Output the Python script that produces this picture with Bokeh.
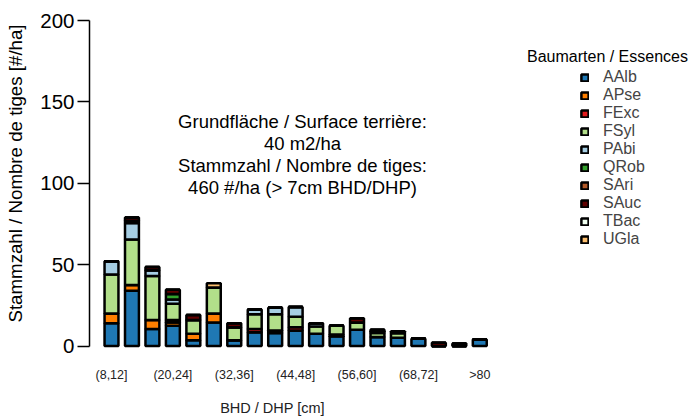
from bokeh.plotting import figure
from bokeh.models import (ColumnDataSource, Range1d, FixedTicker, Label, Legend, LegendItem)
from bokeh.embed import file_html
from bokeh.resources import INLINE
import math

classes = ["(8,12]", "(12,16]", "(16,20]", "(20,24]", "(24,28]", "(28,32]", "(32,36]",
           "(36,40]", "(40,44]", "(44,48]", "(48,52]", "(52,56]", "(56,60]", "(60,64]",
           "(64,68]", "(68,72]", "(72,76]", "(76,80]", ">80"]
species = ["AAlb", "APse", "FExc", "FSyl", "PAbi", "QRob", "SAri", "SAuc", "TBac", "UGla"]
colors = ["#1F78B4", "#FF7F00", "#E31A1C", "#B2DF8A", "#A6CEE3", "#33A02C", "#B15928",
          "#600000", "#F0FFF0", "#FDBF6F"]

AAlb = [14, 34, 10.5, 12.5, 3.5, 14.5, 3.5, 8.5, 8, 9.5, 7.5, 6, 10, 5.5, 5, 4.5, 0, 0, 4]
APse = [6, 3.5, 5.5, 2, 4, 5.5, 0, 0, 0, 0, 0, 0, 0, 0, 0, 0, 0, 0, 0]
FExc = [0, 0, 0, 1.5, 0, 0, 0, 2, 1.5, 2, 0, 1, 0, 0, 0, 0, 0, 0, 0]
FSyl = [24, 28, 27, 10, 8.5, 16, 8, 9, 10, 6.5, 4.5, 5.5, 4.5, 2.5, 3, 0, 0, 0, 0]
PAbi = [8, 10, 3.5, 2.5, 0, 0, 0, 3, 4, 6, 2, 0, 0, 1, 0, 0, 0, 0, 0]
QRob = [0, 0, 0, 3.5, 0, 0, 0, 0, 0, 0, 0, 0, 0, 0, 0, 0, 0, 0, 0]
SAri = [0, 1.5, 0, 0, 0, 0, 0, 0, 0, 0, 0, 0, 0, 0, 0, 0, 0, 0, 0]
SAuc = [0, 2, 2, 2.5, 3, 0, 2.5, 0, 0, 0, 0, 0, 2.5, 1, 1, 0, 2, 1.5, 0]
TBac = [0] * 19
UGla = [0, 0, 0, 0, 0, 2.5, 0, 0, 0, 0, 0, 0, 0, 0, 0, 0, 0, 0, 0]

tick_classes = ["(8,12]", "(20,24]", "(32,36]", "(44,48]", "(56,60]", "(68,72]", ">80"]
y_ticks = [0, 50, 100, 150, 200]

x_title = "BHD / DHP [cm]"
y_title = "Stammzahl / Nombre de tiges [#/ha]"
legend_title = "Baumarten / Essences"
info_lines = ["Grundfläche / Surface terrière:", "40 m2/ha",
              "Stammzahl / Nombre de tiges:", "460 #/ha (> 7cm BHD/DHP)"]

FONT = "Liberation Sans"

# page-pixel layout helpers (canvas sits at the page's top-left corner)
PX0, PITCH = 111.0, 20.46
Y0, YS = 345.5, 1.6275


def dx(px):
    return (px - PX0) / PITCH


def dy(py):
    return (Y0 - py) / YS


data = {"x": list(range(len(classes)))}
for name, vals in zip(species, [AAlb, APse, FExc, FSyl, PAbi, QRob, SAri, SAuc, TBac, UGla]):
    data[name] = vals
source = ColumnDataSource(data)

p = figure(width=689, height=419, output_backend="svg", toolbar_location=None,
           x_range=Range1d(dx(0), dx(689)), y_range=Range1d(dy(419), dy(0)),
           min_border=0)
p.outline_line_color = None
p.xgrid.visible = False
p.ygrid.visible = False
p.xaxis.visible = False

ya = p.yaxis[0]
ya.fixed_location = dx(89)
ya.ticker = FixedTicker(ticks=y_ticks)
ya.bounds = (0, 200)
ya.major_tick_out = 12
ya.major_tick_in = 0
ya.minor_tick_line_color = None
ya.axis_line_width = 1.5
ya.major_tick_line_width = 1.5
ya.axis_line_color = "black"
ya.major_tick_line_color = "black"
ya.major_label_text_font = FONT
ya.major_label_text_font_size = "20.5px"
ya.major_label_text_color = "black"
ya.major_label_standoff = 3

renderers = p.vbar_stack(species, x="x", width=0.68, color=colors, line_color="black",
                         line_width=2.5, source=source)

items = [LegendItem(label=s, renderers=[r]) for s, r in zip(species, renderers)]
legend = Legend(items=items, location=(580, 171), glyph_width=9, glyph_height=9,
                label_height=9, spacing=0, padding=0, margin=0, label_standoff=14,
                label_text_font=FONT, label_text_font_size="16px",
                border_line_color=None, background_fill_alpha=0)
p.add_layout(legend, "center")

p.add_layout(Label(x=dx(15), y=dy(173), text=y_title, text_font=FONT, angle=math.pi / 2,
                   text_font_size="18.7px", text_align="center", text_baseline="middle",
                   text_color="black"))

p.add_layout(Label(x=dx(607), y=dy(56), text=legend_title, text_font=FONT,
                   text_font_size="16px", text_align="center", text_baseline="middle",
                   text_color="black"))

for i, line in enumerate(info_lines):
    p.add_layout(Label(x=dx(302), y=dy(121 + 22 * i), text=line, text_font=FONT,
                       text_font_size="18.5px", text_align="center", text_baseline="middle",
                       text_color="black"))

for c in tick_classes:
    p.add_layout(Label(x=classes.index(c), y=dy(374), text=c, text_font=FONT,
                       text_font_size="12.5px", text_align="center", text_baseline="middle",
                       text_color="#222222"))

p.add_layout(Label(x=dx(272), y=dy(407), text=x_title, text_font=FONT,
                   text_font_size="14.5px", text_align="center", text_baseline="middle",
                   text_color="#222222"))

open("out.html", "w").write(file_html(p, INLINE))
